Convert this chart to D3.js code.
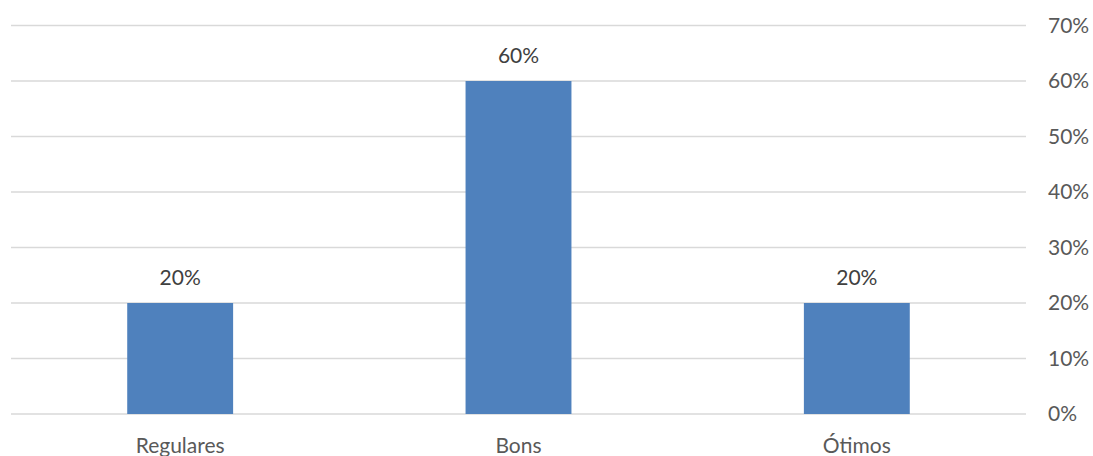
<!DOCTYPE html>
<html><head><meta charset="utf-8">
<script src="https://cdn.jsdelivr.net/npm/d3@7"></script>
<style>body{margin:0;background:#fff}svg{display:block}text{font-family:Lato,"Open Sans",sans-serif}</style>
</head><body>
<svg id="c" width="1093" height="456"></svg>
<script>
const categories = ["Regulares", "Bons", "Ótimos"];
const values = [0.20, 0.60, 0.20];
const dataLabels = ["20%", "60%", "20%"];
const tickValues = [0, 0.1, 0.2, 0.3, 0.4, 0.5, 0.6, 0.7];
const tickLabels = ["0%", "10%", "20%", "30%", "40%", "50%", "60%", "70%"];

(function () {
const svg = d3.select("#c");
const pL = 11, pR = 1026, pT = 25.5, pB = 414;
const x = d3.scaleBand().domain(categories).range([pL, pR]).paddingInner(0.687).paddingOuter(0.3435);
const y = d3.scaleLinear().domain([0, 0.7]).range([pB, pT]);

// gridlines
svg.append("g").selectAll("line").data(tickValues).join("line")
  .attr("x1", pL).attr("x2", pR)
  .attr("y1", d => y(d)).attr("y2", d => y(d))
  .attr("stroke", "#d9d9d9").attr("stroke-width", 1.3);

// right axis labels
const ax = svg.append("g").attr("transform", `translate(${pR + 22},0)`)
  .call(d3.axisRight(y).tickValues(tickValues).tickFormat((d, i) => tickLabels[i]).tickSize(0).tickPadding(0));
ax.select(".domain").remove();
ax.selectAll("text").attr("fill", "#595959").style("font-size", "21px").attr("font-family", "Lato");

// bars
svg.append("g").selectAll("rect").data(values).join("rect")
  .attr("x", (d, i) => x(categories[i]))
  .attr("width", x.bandwidth())
  .attr("y", d => y(d))
  .attr("height", d => y(0) - y(d))
  .attr("fill", "#4f81bd");

// data labels
svg.append("g").selectAll("text").data(values).join("text")
  .attr("x", (d, i) => x(categories[i]) + x.bandwidth() / 2)
  .attr("y", d => y(d) - 18)
  .attr("text-anchor", "middle")
  .attr("fill", "#404040")
  .style("font-size", "21px")
  .text((d, i) => dataLabels[i]);

// category labels
const bx = svg.append("g").attr("transform", `translate(0,${pB})`)
  .call(d3.axisBottom(x).tickSize(0).tickPadding(0));
bx.select(".domain").remove();
bx.selectAll("text").attr("fill", "#595959").style("font-size", "21px").attr("font-family", "Lato")
  .attr("dy", null).attr("y", 39);
})();
</script>
</body></html>
